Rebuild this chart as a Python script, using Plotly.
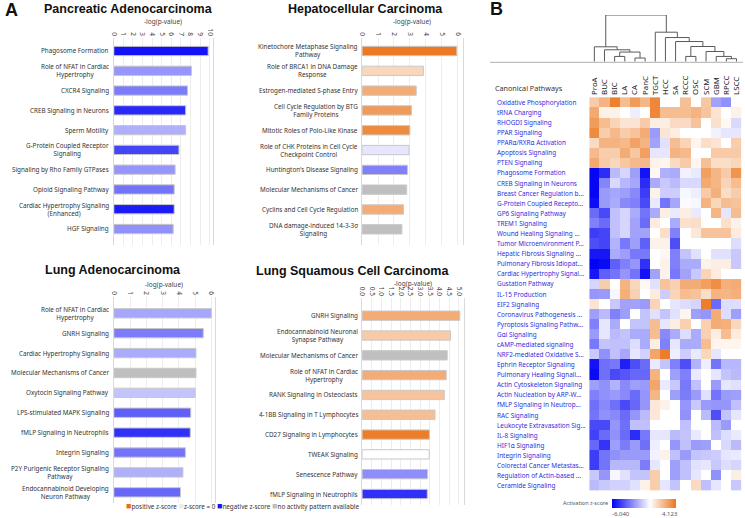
import plotly.graph_objects as go

W, H = 745, 518

# ---------------- Panel A: top pathways per cancer type ----------------
panc_pathways = ["Phagosome Formation", "Role of NFAT in Cardiac<br>Hypertrophy", "CXCR4 Signaling",
                 "CREB Signaling in Neurons", "Sperm Motility", "G-Protein Coupled Receptor<br>Signaling",
                 "Signaling by Rho Family GTPases", "Opioid Signaling Pathway",
                 "Cardiac Hypertrophy Signaling<br>(Enhanced)", "HGF Signaling"]
panc_logp = [9.85, 8.1, 7.7, 7.5, 7.5, 6.8, 6.4, 6.3, 6.3, 6.2]
panc_z = [-5.6, -2.5, -3.1, -5.1, -1.9, -4.4, -2.5, -3.3, -5.4, -2.6]

hcc_pathways = ["Kinetochore Metaphase Signaling<br>Pathway", "Role of BRCA1 in DNA Damage<br>Response",
                "Estrogen-mediated S-phase Entry", "Cell Cycle Regulation by BTG<br>Family Proteins",
                "Mitotic Roles of Polo-Like Kinase", "Role of CHK Proteins in Cell Cycle<br>Checkpoint Control",
                "Huntington's Disease Signaling", "Molecular Mechanisms of Cancer",
                "Cyclins and Cell Cycle Regulation", "DNA damage-induced 14-3-3σ<br>Signaling"]
hcc_logp = [5.95, 3.85, 3.4, 3.1, 3.0, 2.95, 2.85, 2.8, 2.6, 2.5]
hcc_z = [4.0, 1.2, 2.5, 3.0, 3.5, -0.6, -3.0, None, 2.5, None]

luad_pathways = ["Role of NFAT in Cardiac<br>Hypertrophy", "GNRH Signaling", "Cardiac Hypertrophy Signaling",
                 "Molecular Mechanisms of Cancer", "Oxytocin Signaling Pathway", "LPS-stimulated MAPK Signaling",
                 "fMLP Signaling in Neutrophils", "Integrin Signaling",
                 "P2Y Purigenic Receptor Signaling<br>Pathway", "Endocannabinoid Developing<br>Neuron Pathway"]
luad_logp = [6.0, 5.5, 5.05, 5.05, 5.0, 4.73, 4.7, 4.4, 4.25, 4.1]
luad_z = [-2.1, -3.1, -2.0, None, -1.4, -3.8, -4.9, -3.3, -1.9, -3.6]

lusc_pathways = ["GNRH Signaling", "Endocannabinoid Neuronal<br>Synapse Pathway", "Molecular Mechanisms of Cancer",
                 "Role of NFAT in Cardiac<br>Hypertrophy", "RANK Signaling in Osteoclasts",
                 "4-1BB Signaling in T Lymphocytes", "CD27 Signaling in Lymphocytes", "TWEAK Signaling",
                 "Senescence Pathway", "fMLP Signaling in Neutrophils"]
lusc_logp = [5.05, 4.57, 4.4, 4.35, 4.25, 3.77, 3.48, 3.47, 3.38, 3.37]
lusc_z = [2.5, 1.6, None, 2.5, 1.8, 1.95, 3.9, 0.0, -2.7, -4.9]

# ---------------- Panel B: comparison heatmap ----------------
cancer_types = ["ProA", "BUC", "BIC", "LA", "CA", "PanC", "TGCT", "HCC", "SA", "RCCC", "OSC", "SCM", "GBM",
                "RPCC", "LSCC"]
canonical_pathways = [
    "Oxidative Phosphorylation", "tRNA Charging", "RHOGDI Signaling", "PPAR Signaling",
    "PPARα/RXRα Activation", "Apoptosis Signaling", "PTEN Signaling", "Phagosome Formation",
    "CREB Signaling in Neurons", "Breast Cancer Regulation b...", "G-Protein Coupled Recepto...",
    "GP6 Signaling Pathway", "TREM1 Signaling", "Wound Healing Signaling ...", "Tumor Microenvironment P...",
    "Hepatic Fibrosis Signaling ...", "Pulmonary Fibrosis Idiopat...", "Cardiac Hypertrophy Signal...",
    "Gustation Pathway", "IL-15 Production", "EIF2 Signaling", "Coronavirus Pathogenesis ...",
    "Pyroptosis Signaling Pathw...", "Gαi Signaling", "cAMP-mediated signaling", "NRF2-mediated Oxidative S...",
    "Ephrin Receptor Signaling", "Pulmonary Healing Signali...", "Actin Cytoskeleton Signaling",
    "Actin Nucleation by ARP-W...", "fMLP Signaling in Neutrop...", "RAC Signaling",
    "Leukocyte Extravasation Sig...", "IL-8 Signaling", "HIF1α Signaling", "Integrin Signaling",
    "Colorectal Cancer Metastas...", "Regulation of Actin-based ...", "Ceramide Signaling"]
zscores = [
    [1.6, 2.3, 3.8, 2.0, 3.0, 2.2, 3.6, 0, 0, 1.9, 0, 1.7, -2.2, -2.6, 0],
    [2.6, 0.4, 0.4, 0, -0.4, 0, 3.6, 2.0, 2.0, 2.0, 2.3, 1.8, 0.8, 0, 0.4],
    [3.0, 2.0, 1.3, 0.8, 0.8, 1.6, 0.5, 0.5, 1.1, 1.1, 1.8, 0, 0.9, 0.2, -0.9],
    [3.5, 1.5, 2.1, 1.5, 1.8, 2.5, -2.4, 0.8, 0.5, 0, 0, 0, -0.3, -0.6, -0.6],
    [1.1, 2.3, 2.3, 2.1, 2.8, 2.3, -2.2, -0.7, 2.0, 1.3, 0.3, 1.0, 0.8, 0, 1.5],
    [2.1, 1.5, 1.5, 2.5, 1.7, 2.9, -0.6, -0.6, 2.3, 2.1, 0, 0, 1.6, 1.6, 1.6],
    [2.6, 1.6, 1.2, 1.7, 2.1, 2.1, 0.4, 0.3, 1.1, 1.6, 0.3, 1.9, 1.0, 1.0, 1.2],
    [-5.9, -5.0, -1.6, -1.0, -2.3, -5.6, 0.2, -1.9, -2.0, -0.3, -0.5, 2.9, 2.2, 1.6, 3.2],
    [-5.9, -2.9, -0.9, -1.7, -2.1, -5.0, -2.0, -1.3, -1.6, -0.9, -0.9, 2.6, 2.2, 1.3, 2.0],
    [-5.9, -2.4, -2.1, -2.3, -2.8, -4.6, 0.4, -1.2, -1.2, -0.2, -0.4, 1.6, 2.4, 1.0, 1.5],
    [-5.7, -2.4, -2.0, -2.8, -3.0, -4.3, -0.5, -3.3, -2.1, -0.1, -0.2, 2.3, 1.2, 2.0, 1.8],
    [-3.5, -4.3, -1.5, -1.0, -2.0, -3.3, -2.0, 0.5, -0.5, 0.5, -0.5, 0, 2.2, -0.6, 2.0],
    [-3.0, -3.5, -1.5, -1.0, -2.2, -3.5, 0.6, 0, -2.0, 0.9, 1.0, 0, 0, 0.9, 0.4],
    [-4.6, -4.4, -1.5, -1.0, -2.2, -2.2, 0, 1.0, -3.0, 0, 0.7, 1.8, 1.8, 1.8, 0.6],
    [-4.2, -4.4, -1.8, -3.2, -2.3, -3.8, 0.4, 0.4, -4.2, 0, 0, 0, 0, 0, -0.8],
    [-5.5, -5.5, -2.0, -2.3, -3.2, -3.2, 0, 0.2, -3.0, -1.4, -0.7, 0, -0.7, -0.7, -1.3],
    [-6.0, -5.8, -3.8, -3.0, -2.5, -4.9, 0, 0.4, -3.0, -2.0, -2.0, 0.4, 0.5, 0.5, -1.3],
    [-5.5, -3.8, -3.3, -2.5, -3.3, -5.6, -2.2, 0.4, -3.2, -2.2, -1.3, 1.3, 0.6, 0, 0],
    [-1.0, 1.5, 0, 2.3, 1.2, 0.2, -0.7, 1.8, 1.4, 2.5, 2.5, 2.9, 3.4, 2.4, 2.5],
    [-2.5, -2.4, -0.2, 2.4, 1.4, 0, 0.6, -1.2, 1.3, 2.0, 1.8, 1.0, 2.3, 2.2, 2.4],
    [0.8, 0, -1.3, -2.2, -2.2, -2.4, 1.3, 0, -0.6, -0.8, -1.0, 3.9, -3.5, -0.8, -0.8],
    [-2.3, -1.6, -3.0, -2.3, 0, -1.4, -0.7, -1.4, -0.7, 0.3, -2.3, -2.5, 2.5, -0.8, -2.3],
    [-3.0, -0.6, -2.0, 0, -1.4, -1.4, 2.0, -0.6, 0.5, 1.4, 0, 1.4, 2.5, 2.4, 1.2],
    [-2.4, -0.6, -1.6, -1.4, -2.0, -2.0, 2.0, -2.8, -2.0, -0.8, -2.0, 1.4, 0.5, 2.0, 0.6],
    [-3.2, -1.4, -1.5, -1.5, -0.8, -2.0, 0.5, -3.0, -0.6, -2.0, -2.0, 2.0, 0.3, 0.3, 0.3],
    [-1.3, -2.6, -1.5, -2.1, -0.6, -1.1, 2.7, 3.9, -0.4, -1.2, -0.5, 1.2, -0.6, 0, 0],
    [-5.6, -3.4, -3.2, -5.3, -4.2, -3.5, -0.5, -1.4, -3.0, -4.2, -1.8, -0.4, -3.3, -1.7, -1.7],
    [-5.8, -3.4, -4.3, -4.0, -3.6, -3.6, 2.3, 0, -2.3, -3.0, -0.5, 0, -0.6, -1.4, -1.6],
    [-2.3, -2.6, -1.8, -2.8, -2.3, -2.4, 2.7, -0.5, -1.3, -3.2, -1.5, 0, -2.4, -0.6, -0.7],
    [-3.0, -2.6, -2.4, -2.8, -3.5, -2.5, 2.2, 0, -2.3, -3.1, -2.4, -0.7, -3.3, -2.4, -2.3],
    [-3.4, -2.8, -3.4, -4.3, -3.6, -2.5, 0.7, 0.4, 0, -2.5, -1.3, -2.4, -2.5, -2.5, -1.5],
    [-3.3, -2.6, -2.8, -3.5, -2.5, -1.6, 0.7, 0, 0, -2.6, 0, -1.6, -4.2, -1.4, -0.6],
    [-4.3, -4.3, -2.5, -3.4, -1.5, -1.5, 0, 0, 0, -1.5, 0, 0, -1.6, -2.4, 0],
    [-4.5, -3.5, -2.6, -3.5, -5.0, -3.2, -0.6, -0.6, -1.6, -1.4, -0.5, 0, -1.5, -0.8, -0.5],
    [-3.6, -4.8, -2.3, -3.1, -2.4, -3.4, -0.4, 0, -2.5, -1.5, -2.4, -2.3, 0, -0.9, -1.6],
    [-4.6, -3.3, -2.6, -2.4, -2.4, -2.4, -0.3, 0.4, -1.5, -2.4, -1.4, -1.3, -1.2, -0.6, -0.5],
    [-4.6, -3.3, -1.7, -1.7, -1.7, -3.1, -0.6, 0, -2.3, -1.5, -0.7, -0.6, -1.3, -0.8, -1.0],
    [-1.3, -2.5, -0.2, -0.7, -1.4, -1.4, 1.5, 0, -2.3, -1.5, -0.6, 0, -2.6, 0, 0.5],
    [-1.6, -1.3, -1.1, -1.1, -0.7, 0.4, 1.5, -0.6, -1.4, 0, 1.1, -1.5, -0.6, 0, -1.3],
]
# hierarchical clustering of the cancer types: (left, right, height); cN = N-th merge
dendro_merges = [
    ("CA", "PanC", 3.7), ("BIC", "LA", 5.3), ("c1", "c0", 9.7), ("BUC", "c2", 12.0), ("ProA", "c3", 15.0),
    ("RPCC", "LSCC", 3.0), ("GBM", "c5", 5.3), ("SCM", "c6", 10.3), ("RCCC", "OSC", 5.3), ("c8", "c7", 15.3),
    ("SA", "c9", 20.3), ("HCC", "c10", 24.3), ("TGCT", "c11", 29.7), ("c4", "c12", 47.0),
]
Z_MIN, Z_MAX = -6.040, 4.123

FONT = "Noto Sans, Open Sans, sans-serif"
BOLD = "Liberation Sans, Arial, sans-serif"
BLUE = (0, 0, 245)
ORANGE = (236, 118, 28)


def z_color(z):
    if z is None:
        return "rgb(191,191,191)"
    if z < 0:
        f, end = min(-z / -Z_MIN, 1), BLUE
    else:
        f, end = min(z / Z_MAX, 1), ORANGE
    r, g, b = [round(255 + (e - 255) * f) for e in end]
    return f"rgb({r},{g},{b})"


def px_x(x):
    return x / W


def px_y(y):
    return 1 - y / H


fig = go.Figure()
annotations = []

# geometry of the four bar panels (pixels)
panels = [
    dict(title="Pancreatic Adenocarcinoma", names=panc_pathways, vals=panc_logp, zs=panc_z,
         x0=110.7, ppu=9.66, xmax=10.35, dtick=1, fmt="d", top=38, bottom=245, c0=51, c9=229,
         tx=126, ty=8.5, axy=21.5),
    dict(title="Hepatocellular Carcinoma", names=hcc_pathways, vals=hcc_logp, zs=hcc_z,
         x0=361, ppu=16.05, xmax=6.31, dtick=1, fmt="d", top=38, bottom=245, c0=51, c9=229.3,
         tx=364, ty=8.5, axy=21.5),
    dict(title="Lung Adenocarcinoma", names=luad_pathways, vals=luad_logp, zs=luad_z,
         x0=110.7, ppu=16.4, xmax=6.22, dtick=1, fmt="d", top=297, bottom=503, c0=313.3, c9=492.3,
         tx=110, ty=270, axy=284.5),
    dict(title="Lung Squamous Cell Carcinoma", names=lusc_pathways, vals=lusc_logp, zs=lusc_z,
         x0=361, ppu=19.5, xmax=5.28, dtick=0.5, fmt=".1f", top=298, bottom=505, c0=315.7, c9=494,
         tx=351, ty=271, axy=283.5),
]

for i, p in enumerate(panels, start=1):
    xa, ya = f"x{i}", f"y{i}"
    fig.add_trace(go.Bar(
        x=p["vals"], y=p["names"], orientation="h", xaxis=xa, yaxis=ya, width=0.47,
        marker=dict(color=[z_color(z) for z in p["zs"]], line=dict(color="#c8c8c8", width=1)),
        showlegend=False, hoverinfo="x+y"))
    sp = (p["c9"] - p["c0"]) / 9
    x1 = p["x0"] + p["ppu"] * p["xmax"]
    fig.update_layout(**{
        f"xaxis{i}": dict(domain=[px_x(p["x0"]), px_x(x1)], range=[0, p["xmax"]], anchor=ya, side="top",
                          dtick=p["dtick"], tick0=0, tickformat=p["fmt"], tickangle=90, ticks="",
                          tickfont=dict(family=FONT, size=6.5, color="#444"), showgrid=True,
                          gridcolor="#ededed", gridwidth=1, zeroline=False, showline=False),
        f"yaxis{i}": dict(domain=[px_y(p["bottom"]), px_y(p["top"])], anchor=xa, type="category",
                          categoryorder="array", categoryarray=p["names"],
                          range=[9 + (p["bottom"] - p["c9"]) / sp, -(p["c0"] - p["top"]) / sp],
                          showticklabels=False, showgrid=False, zeroline=False, showline=True,
                          mirror=True, linecolor="#dadada", linewidth=1),
    })
    for name in p["names"]:
        annotations.append(dict(x=px_x(p["x0"] - 2.5), xref="paper", y=name, yref=ya, text=name,
                                xanchor="right", align="center",
                                font=dict(family=FONT, size=6.3, color="#333")))
    annotations.append(dict(x=px_x(p["tx"]), y=px_y(p["ty"]), text=f"<b>{p['title']}</b>",
                            font=dict(family=BOLD, size=12.5, color="#111")))
    annotations.append(dict(x=px_x((p["x0"] + x1) / 2), y=px_y(p["axy"]), text="-log(p-value)",
                            font=dict(family=FONT, size=6.5, color="#444")))

# ---------------- heatmap ----------------
hm_left, hm_right, hm_top, hm_bottom = 590, 743.6, 95.9, 492.1
white_pos = -Z_MIN / (Z_MAX - Z_MIN)
fig.add_trace(go.Heatmap(
    z=zscores, x=cancer_types, y=canonical_pathways, xaxis="x5", yaxis="y5", zmin=Z_MIN, zmax=Z_MAX,
    colorscale=[[0, "rgb(0,0,245)"], [white_pos, "rgb(255,255,255)"], [1, "rgb(236,118,28)"]],
    colorbar=dict(orientation="h", x=px_x(645), xanchor="center", y=px_y(499), yanchor="top",
                  len=64, lenmode="pixels", thickness=9, outlinewidth=0, xpad=0, ypad=0,
                  showticklabels=False, ticks=""),
))
fig.update_layout(
    xaxis5=dict(domain=[px_x(hm_left), px_x(hm_right)], anchor="y5", side="top", tickangle=-90, ticks="",
                tickfont=dict(family=FONT, size=7.8, color="#1a1a1a"), showgrid=False, zeroline=False),
    yaxis5=dict(domain=[px_y(hm_bottom), px_y(hm_top)], anchor="x5", autorange="reversed",
                showticklabels=False, showgrid=False, zeroline=False),
)
for name in canonical_pathways:
    annotations.append(dict(x=px_x(495), xref="paper", y=name, yref="y5", text=name, xanchor="left",
                            font=dict(family=FONT, size=6.4, color="#2e2ee0")))

# ---------------- dendrogram ----------------
pos = {name: i for i, name in enumerate(cancer_types)}
hgt = {name: 0.0 for name in cancer_types}
dx, dy = [], []
for k, (a, b, h) in enumerate(dendro_merges):
    dx += [pos[a], pos[a], pos[b], pos[b], None]
    dy += [hgt[a], h, h, hgt[b], None]
    pos[f"c{k}"] = (pos[a] + pos[b]) / 2
    hgt[f"c{k}"] = h
fig.add_trace(go.Scatter(x=dx, y=dy, mode="lines", line=dict(color="#5a5a5a", width=1), xaxis="x6",
                         yaxis="y6", showlegend=False, hoverinfo="skip"))
fig.update_layout(
    xaxis6=dict(domain=[px_x(hm_left), px_x(hm_right)], anchor="y6", range=[-0.5, len(cancer_types) - 0.5],
                visible=False),
    yaxis6=dict(domain=[px_y(61.7), px_y(15)], anchor="x6", range=[0, 47], visible=False),
)

# ---------------- labels ----------------
sq = "<span style='color:{};font-size:9px'>■</span>"
annotations += [
    dict(x=px_x(7.5), y=px_y(9.7), text="<b>A</b>", font=dict(family=BOLD, size=18, color="#111")),
    dict(x=px_x(496), y=px_y(9.2), text="<b>B</b>", font=dict(family=BOLD, size=18, color="#111")),
    dict(x=px_x(493), y=px_y(88.3), text="Canonical Pathways", xanchor="left",
         font=dict(family=FONT, size=7.2, color="#333")),
    dict(x=px_x(611), y=px_y(502.5), text="Activation z-score", xanchor="right",
         font=dict(family=FONT, size=5.5, color="#555")),
    dict(x=px_x(622), y=px_y(514), text=f"{Z_MIN:.3f}", font=dict(family=FONT, size=6, color="#555")),
    dict(x=px_x(671), y=px_y(514), text=f"{Z_MAX:.3f}", font=dict(family=FONT, size=6, color="#555")),
    dict(x=px_x(121), y=px_y(505), xanchor="left", font=dict(family=FONT, size=6.3, color="#333"),
         text=sq.format("rgb(236,110,20)") + "positive z-score "
              + sq.format("#ececec") + "z-score = 0 "
              + sq.format("rgb(20,20,235)") + "negative z-score "
              + sq.format("#bfbfbf") + "no activity pattern available"),
]
for a in annotations:
    a.setdefault("xref", "paper")
    a.setdefault("yref", "paper")
    a.setdefault("xanchor", "center")
    a.setdefault("yanchor", "middle")
    a["showarrow"] = False

fig.update_layout(
    width=W, height=H, margin=dict(l=0, r=0, t=0, b=0), paper_bgcolor="white", plot_bgcolor="white",
    annotations=annotations, showlegend=False, bargap=0.5,
    shapes=[dict(type="line", xref="paper", yref="paper", x0=px_x(490), x1=1, y0=px_y(62.3), y1=px_y(62.3),
                 line=dict(color="#b0b0b0", width=1))],
)

fig.write_html("out.html", config={"displayModeBar": False},
               post_script="document.body.style.margin='0';document.body.style.overflow='hidden';")
